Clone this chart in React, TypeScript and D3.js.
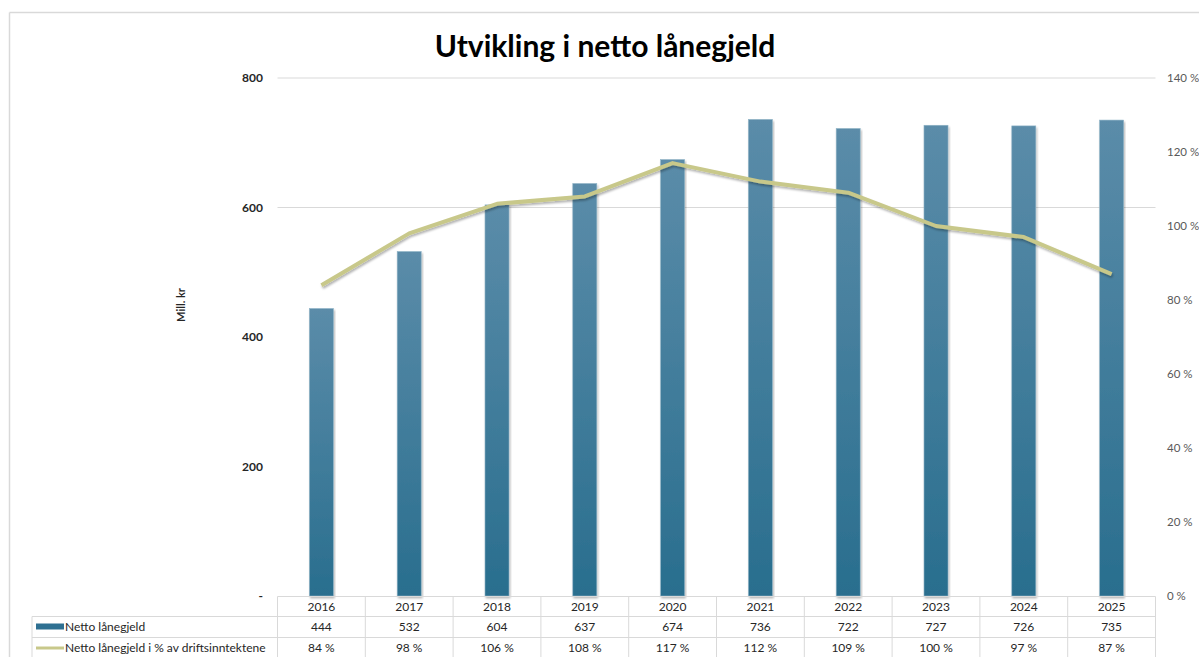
import React from "react";
import * as d3 from "d3";

const years = ["2016", "2017", "2018", "2019", "2020", "2021", "2022", "2023", "2024", "2025"];
const debt = [444, 532, 604, 637, 674, 736, 722, 727, 726, 735];
const pct = [84, 98, 106, 108, 117, 112, 109, 100, 97, 87];
const leftTicks = [0, 200, 400, 600, 800];
const gridTicks = [600, 800];
const rightTicks = [0, 20, 40, 60, 80, 100, 120, 140];
const seriesNames = ["Netto lånegjeld", "Netto lånegjeld i % av driftsinntektene"];
const title = "Utvikling i netto lånegjeld";
const yTitle = "Mill. kr";

const W = 1199, H = 657;
const plotL = 277.5, plotR = 1155.5, plotT = 78, plotB = 596;
const font = "Lato, 'Open Sans', sans-serif";

export default function App() {
  const x = d3.scaleBand<string>().domain(years).range([plotL, plotR]).paddingInner(0).paddingOuter(0);
  const yL = d3.scaleLinear().domain([0, 800]).range([plotB, plotT]);
  const yR = d3.scaleLinear().domain([0, 140]).range([plotB, plotT]);
  const barW = 24;
  const line = d3.line<number>().x((_, i) => (x(years[i]) as number) + x.bandwidth() / 2).y(d => yR(d));
  const rowTops = [596.5, 616.5, 637.5, 658];
  const tableL = 32;
  return (
    <svg width={W} height={H} style={{ position: "absolute", left: 0, top: 0, background: "#fff" }}>
      <defs>
        <linearGradient id="barGrad" x1="0" y1="0" x2="0" y2="1">
          <stop offset="0" stopColor="#5b8ca9" />
          <stop offset="1" stopColor="#296e8e" />
        </linearGradient>
        <filter id="shadow" x="-10%" y="-10%" width="120%" height="130%">
          <feDropShadow dx="1" dy="2" stdDeviation="1.2" floodColor="#000" floodOpacity="0.3" />
        </filter>
      </defs>
      {/* frame */}
      <line x1={9.5} x2={W} y1={12.5} y2={12.5} stroke="#d9d9d9" strokeWidth={1.5} />
      <line x1={9.5} x2={9.5} y1={12.5} y2={H} stroke="#d9d9d9" strokeWidth={1.5} />
      <text x={605} y={57} textAnchor="middle" fontFamily={font} fontWeight="bold" fontSize={30} fill="#000">{title}</text>
      {/* gridlines */}
      {gridTicks.map(t => (
        <line key={t} x1={plotL} x2={plotR} y1={yL(t)} y2={yL(t)} stroke="#d9d9d9" strokeWidth={1} />
      ))}
      {/* left ticks */}
      {leftTicks.map(t => (
        <text key={t} x={263} y={yL(t) + 4} textAnchor="end" fontFamily={font} fontWeight="bold" fontSize={12} fill="#262626">
          {t === 0 ? "-" : String(t)}
        </text>
      ))}
      <text transform={`translate(185,305) rotate(-90)`} textAnchor="middle" fontFamily={font} fontWeight="bold" fontSize={11} fill="#262626">{yTitle}</text>
      {/* right ticks */}
      {rightTicks.map(t => (
        <text key={t} x={1167} y={yR(t) + 4} fontFamily={font} fontSize={11.5} fill="#595959">{`${t} %`}</text>
      ))}
      {/* bars */}
      {debt.map((v, i) => (
        <rect key={i} x={(x(years[i]) as number) + x.bandwidth() / 2 - barW / 2} y={yL(v)} width={barW} height={plotB - yL(v)}
          fill="url(#barGrad)" stroke="#8fb3c6" strokeWidth={0.6} filter="url(#shadow)" />
      ))}
      {/* line */}
      <path d={line(pct) || ""} fill="none" stroke="#c8c88a" strokeWidth={4} strokeLinejoin="round" filter="url(#shadow)" />
      {/* data table */}
      <g fontFamily={font} fontSize={12} fill="#262626">
        <line x1={plotL} x2={plotR} y1={rowTops[0]} y2={rowTops[0]} stroke="#d9d9d9" />
        {rowTops.slice(1).map((r, k) => (
          <line key={k} x1={tableL} x2={plotR} y1={r} y2={r} stroke="#d9d9d9" />
        ))}
        <line x1={tableL} x2={tableL} y1={rowTops[1]} y2={rowTops[3]} stroke="#d9d9d9" />
        {years.map(yv => (
          <line key={yv} x1={x(yv) as number} x2={x(yv) as number} y1={rowTops[0]} y2={rowTops[3]} stroke="#d9d9d9" />
        ))}
        <line x1={plotR} x2={plotR} y1={rowTops[0]} y2={rowTops[3]} stroke="#d9d9d9" />
        {years.map((yv, i) => {
          const cx = (x(yv) as number) + x.bandwidth() / 2;
          return (
            <g key={yv}>
              <text x={cx} y={rowTops[0] + 14} textAnchor="middle">{yv}</text>
              <text x={cx} y={rowTops[1] + 14.5} textAnchor="middle">{debt[i]}</text>
              <text x={cx} y={rowTops[2] + 14.5} textAnchor="middle">{`${pct[i]} %`}</text>
            </g>
          );
        })}
        <rect x={36} y={rowTops[1] + 7} width={28} height={6} fill="#2e7092" />
        <text x={65} y={rowTops[1] + 14.5}>{seriesNames[0]}</text>
        <line x1={36} x2={64} y1={rowTops[2] + 10.5} y2={rowTops[2] + 10.5} stroke="#c8c88a" strokeWidth={3} />
        <text x={65} y={rowTops[2] + 14.5}>{seriesNames[1]}</text>
      </g>
    </svg>
  );
}
